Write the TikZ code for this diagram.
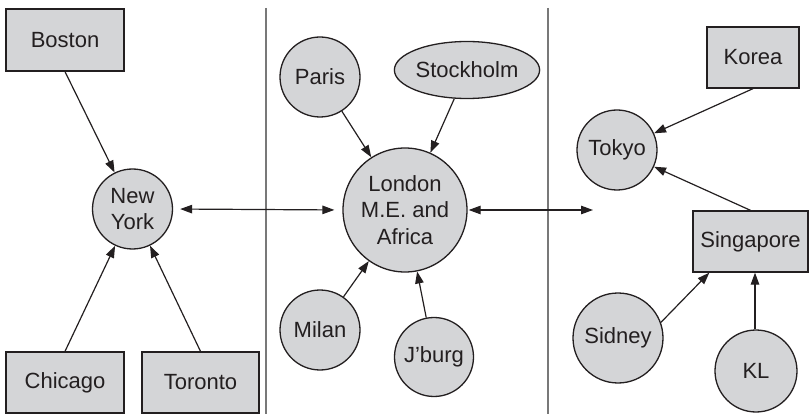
\documentclass[tikz,border=0pt]{standalone}
\usepackage{fontspec}
\setmainfont{Liberation Sans}
\usetikzlibrary{arrows.meta,shapes.geometric}
\definecolor{nodefill}{RGB}{212,213,215}
\definecolor{ink}{RGB}{35,31,32}
\definecolor{sepline}{RGB}{120,120,120}
\tikzset{
  base/.style={draw=ink, fill=nodefill, line width=1.3pt, text=ink, inner sep=0pt, align=center,
    font=\fontsize{22}{26.5}\selectfont},
  boxnode/.style={base, rectangle},
  circnode/.style={base, circle},
  ellnode/.style={base, ellipse},
  link/.style={draw=ink, line width=1.2pt, -{Triangle[length=12pt,width=8.5pt]}},
  duallink/.style={draw=ink, line width=1.2pt, {Triangle[length=12pt,width=8.5pt]}-{Triangle[length=12pt,width=8.5pt]}},
  sep/.style={draw=sepline, line width=1.4pt}
}
\begin{document}
\begin{tikzpicture}[x=1pt,y=-1pt]
\useasboundingbox (0,0) rectangle (809,414);
% separators
\coordinate (s1t) at (266,8);
\coordinate (s1b) at (266,414);
\coordinate (s2t) at (548,8);
\coordinate (s2b) at (548,414);
\draw[sep] (s1t) -- (s1b);
\draw[sep] (s2t) -- (s2b);
% left group
\node[boxnode, minimum width=118pt, minimum height=62pt] (boston) at (65,40) {Boston};
\node[circnode, minimum size=80pt] (ny) at (132.5,209) {New\\York};
\node[boxnode, minimum width=118pt, minimum height=61pt] (chicago) at (65,382.5) {Chicago};
\node[boxnode, minimum width=117pt, minimum height=61pt] (toronto) at (200.5,382.5) {Toronto};
% middle group
\node[circnode, minimum size=80pt] (paris) at (320,77) {Paris};
\node[ellnode, minimum width=140pt, minimum height=57pt] (stock) at (467,70) {Stockholm};
\node[circnode, minimum size=124pt] (london) at (405,210) {London\\M.E. and\\Africa};
\node[circnode, minimum size=80pt] (milan) at (320,330) {Milan};
\node[circnode, minimum size=79pt] (jburg) at (434,357) {J’burg};
% right group
\node[boxnode, minimum width=92pt, minimum height=61pt] (korea) at (753,57.5) {Korea};
\node[circnode, minimum size=80pt] (tokyo) at (617,150) {Tokyo};
\node[boxnode, minimum width=115pt, minimum height=61pt] (sing) at (750.5,241.5) {Singapore};
\node[circnode, minimum size=90pt] (sidney) at (618,338) {Sidney};
\node[circnode, minimum size=82pt] (kl) at (756,371) {KL};
\coordinate (asia) at (593,210);
% connectors
\draw[link] (boston.south) -- (ny);
\draw[link] (chicago.north) -- (ny);
\draw[link] (toronto.north) -- (ny);
\draw[duallink, shorten <=7pt, shorten >=8pt] (ny.east) -- (london.west);
\draw[duallink, shorten <=1pt] (london.east) -- (asia);
\draw[link] (paris) -- (london);
\draw[link] (stock) -- (london);
\draw[link] (milan) -- (london);
\draw[link] (jburg) -- (london);
\draw[link] (korea.south) -- (tokyo);
\draw[link] (sing.north) -- (tokyo);
\draw[link] (sidney.20) -- ([xshift=17pt]sing.south west);
\draw[link] (kl.north -| 755,0) -- (sing.south -| 755,0);
\end{tikzpicture}
\end{document}
